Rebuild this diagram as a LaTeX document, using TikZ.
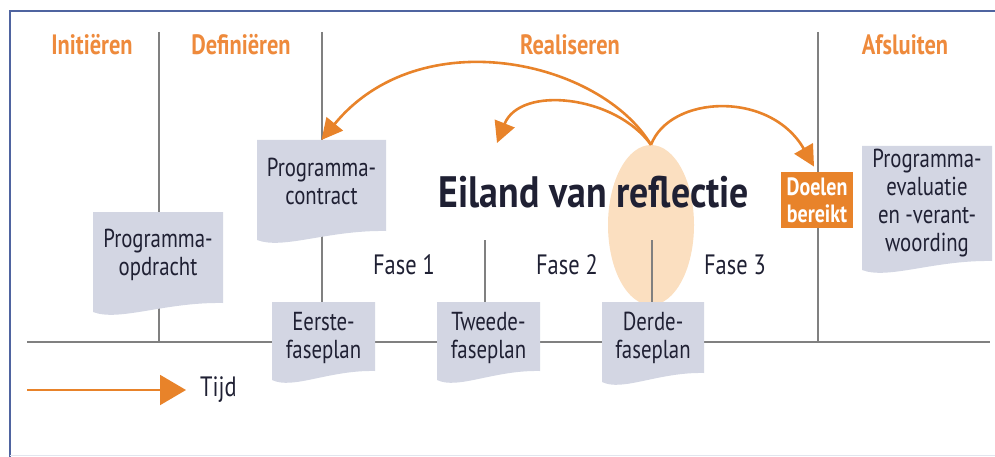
\documentclass[tikz,border=0pt]{standalone}
\usepackage{fontspec}
\setmainfont{PT Sans}[FakeStretch=0.8]
\newfontfamily\titlefont{PT Sans}[FakeStretch=0.86]
\usetikzlibrary{arrows.meta,backgrounds,shapes.geometric}
\definecolor{orng}{HTML}{E8832A}
\definecolor{hdr}{HTML}{EE8A3C}
\definecolor{boxc}{HTML}{D3D6E3}
\definecolor{linec}{HTML}{808080}
\definecolor{isle}{HTML}{FBDFC0}
\definecolor{framec}{HTML}{4F64A0}
\definecolor{txt}{HTML}{1F2033}
\newcommand\docshape[4]{\fill[boxc] (#1,#2) -- (#3,#2) -- (#3,#4-9) .. controls ({#1+0.55*(#3-#1)},#4-10) and ({#1+0.2*(#3-#1)},#4+10) .. (#1,#4) -- cycle;}
\tikzset{
  boxtxt/.style={font=\fontsize{26}{28}\selectfont, text=txt, align=center, inner sep=0pt},
  hdrtxt/.style={font=\bfseries\fontsize{28}{30}\selectfont, text=hdr, inner sep=0pt},
  fasetxt/.style={font=\fontsize{28}{30}\selectfont, text=txt, inner sep=0pt},
  gline/.style={draw=linec, line width=2.4pt},
  arr/.style={draw=orng, line width=2.6pt, -{Triangle[length=21pt,width=21pt]}},
}
\begin{document}
\begin{tikzpicture}[x=1pt,y=-1pt]
\useasboundingbox (0,0) rectangle (995,457);
% frame
\draw[framec, line width=2pt] (10,457) -- (10,11) -- (995,11);
\draw[draw={rgb,255:red,226;green,229;blue,238}, line width=1pt] (10,455) -- (995,455);
% island
\begin{scope}[on background layer]
\node[ellipse, fill=isle, minimum width=86, minimum height=160, inner sep=0pt] (eiland) at (651,225) {};
\end{scope}
% headers
\node[hdrtxt] (h1) at (92,45) {Initiëren};
\node[hdrtxt] (h2) at (241,45) {Definiëren};
\node[hdrtxt] (h3) at (570,45) {Realiseren};
\node[hdrtxt] (h4) at (905,45) {Afsluiten};
% boxes
\docshape{93}{212}{223}{312}
\node[boxtxt, minimum width=130, minimum height=86, anchor=north] (opdracht) at (158,212) {Programma-\\opdracht};
\docshape{257}{140}{386}{240}
\node[boxtxt, minimum width=129, minimum height=82, anchor=north] (contract) at (321.5,140) {Programma-\\contract};
\docshape{272}{302}{375}{380}
\node[boxtxt, minimum width=103, minimum height=72, anchor=north] (eerste) at (323.5,302) {Eerste-\\faseplan};
\docshape{437}{302}{540}{380}
\node[boxtxt, minimum width=103, minimum height=72, anchor=north] (tweede) at (488.5,302) {Tweede-\\faseplan};
\docshape{602}{302}{704}{382}
\node[boxtxt, minimum width=102, minimum height=72, anchor=north] (derde) at (653,302) {Derde-\\faseplan};
\docshape{862}{146}{992}{270}
\node[boxtxt, minimum width=130, minimum height=114, anchor=north] (evaluatie) at (927,146) {Programma-\\evaluatie\\en -verant-\\woording};
\node[fill=orng, text=white, font=\bfseries\fontsize{25}{27}\selectfont, minimum width=72, minimum height=56, inner sep=0pt, align=center] (doelen) at (817,200) {Doelen\\bereikt};
% texts
\node[font=\titlefont\bfseries\fontsize{44}{48}\selectfont, text=txt, inner sep=0pt] (title) at (594,192) {Eiland van reflectie};
\node[fasetxt] (f1) at (404,265) {Fase 1};
\node[fasetxt] (f2) at (567,265) {Fase 2};
\node[fasetxt] (f3) at (735,265) {Fase 3};
\node[fasetxt, anchor=west] (tijd) at (200,390) {Tijd};
% gray lines
\coordinate (t1) at (159,32); \coordinate (b1) at (159,342);
\coordinate (t2) at (322,32);
\coordinate (t3) at (818,32); \coordinate (b3) at (818,342);
\coordinate (t4) at (485,240); \coordinate (t5) at (652,240);
\coordinate (bl) at (27,342); \coordinate (br) at (990,342);
\begin{scope}[on background layer]
\draw[gline] (bl) -- (br);
\draw[gline] (t1) -- (b1);
\draw[gline] (t2) -- (t2 |- contract.north);
\draw[gline] (t2 |- contract.south) -- (t2 |- eerste.north);
\draw[gline] (t4) -- (t4 |- tweede.north);
\draw[gline] (t5) -- (t5 |- derde.north);
\draw[gline] (t3) -- (b3);
\end{scope}
% arrows
\coordinate (a2) at (497,143);
\coordinate (ts) at (27,390);
\draw[arr] (eiland.north) .. controls (600,60) and (420,20) .. (contract.north);
\draw[arr] (eiland.north) .. controls (615,95) and (520,85) .. (a2);
\draw[arr, shorten >=6pt] (eiland.north) .. controls (670,95) and (770,90) .. (doelen.north);
\draw[draw=orng, line width=2pt, -{Triangle[length=26pt,width=30pt]}, shorten >=14pt] (ts) -- (tijd.west);
\end{tikzpicture}
\end{document}
